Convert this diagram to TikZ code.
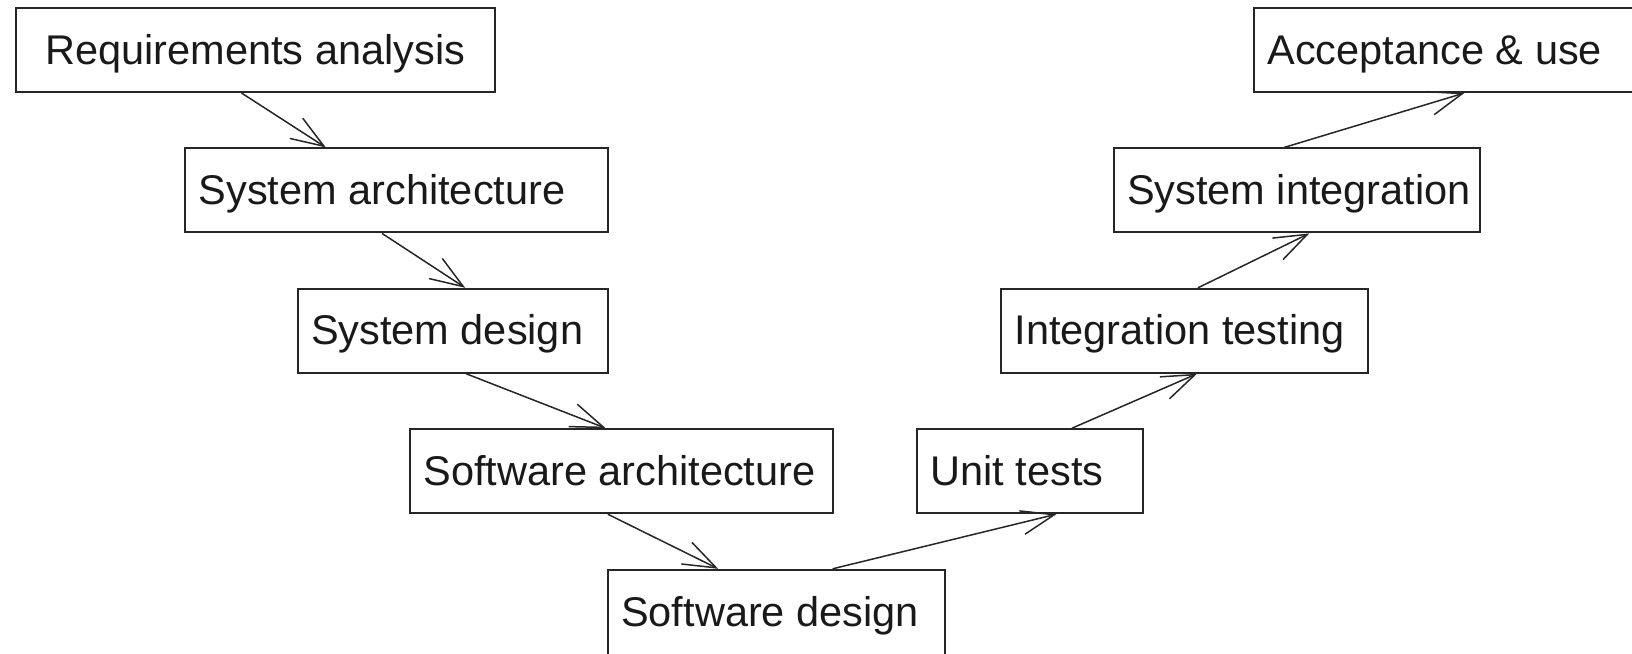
\documentclass[tikz,border=0pt]{standalone}
\usepackage{fontspec}
\setmainfont{Liberation Sans}
\usetikzlibrary{arrows.meta}

\newcommand{\boxlabel}[2]{\makebox[#1][l]{#2}}

\begin{document}
\begin{tikzpicture}[x=1pt, y=-1pt,
    box/.style={draw=black!85, line width=2pt, rectangle, anchor=west,
      inner xsep=0pt, minimum height=84pt, text height=30pt, text depth=2pt,
      font=\fontsize{41.5}{50}\selectfont, text=black!90},
    arr/.style={-{Straight Barb[length=33pt, width=24pt]}, line width=1.5pt, draw=black!85}]
  \clip (0,0) rectangle (1632,653);

  % left branch
  \node (req) [box, minimum width=478.5pt] at (15,50) {Requirements analysis};
  \node (sysarch) [box, minimum width=422.6pt] at (184.2,190.4) {\boxlabel{395.8pt}{System architecture}};
  \node (sysdes) [box, minimum width=310.2pt] at (296.6,330.8) {\boxlabel{283.4pt}{System design}};
  \node (swarch) [box, minimum width=422.6pt] at (409,471.2) {\boxlabel{395.8pt}{Software architecture}};
  \node (swdes) [box, minimum width=337.2pt, minimum height=86pt] at (606.8,612.8) {\boxlabel{310.4pt}{Software design}};

  % right branch
  \node (unit) [box, minimum width=225.7pt] at (916,471.2) {\boxlabel{198.9pt}{Unit tests}};
  \node (integ) [box, minimum width=366.4pt] at (1000.2,330.8) {\boxlabel{339.6pt}{Integration testing}};
  \node (sysint) [box, minimum width=366.4pt] at (1112.6,190.4) {\boxlabel{339.6pt}{System integration}};
  \node (accept) [box, minimum width=430pt] at (1253.1,50) {\boxlabel{403.2pt}{Acceptance \& use}};

  \draw[arr] ([xshift=226.5pt]req.south west) -- ([xshift=141.6pt]sysarch.north west);
  \draw[arr] ([xshift=197.8pt]sysarch.south west) -- ([xshift=168.6pt]sysdes.north west);
  \draw[arr] ([xshift=169.7pt]sysdes.south west) -- ([xshift=196.7pt]swarch.north west);
  \draw[arr] ([xshift=198.8pt]swarch.south west) -- ([xshift=111.4pt]swdes.north west);
  \draw[arr] ([xshift=225.8pt]swdes.north west) -- ([xshift=140.4pt]unit.south west);
  \draw[arr] ([xshift=156pt]unit.north west) -- ([xshift=196.7pt]integ.south west);
  \draw[arr] ([xshift=197.8pt]integ.north west) -- ([xshift=196.7pt]sysint.south west);
  \draw[arr] ([xshift=171.7pt]sysint.north west) -- ([xshift=211.3pt]accept.south west);
\end{tikzpicture}
\end{document}
